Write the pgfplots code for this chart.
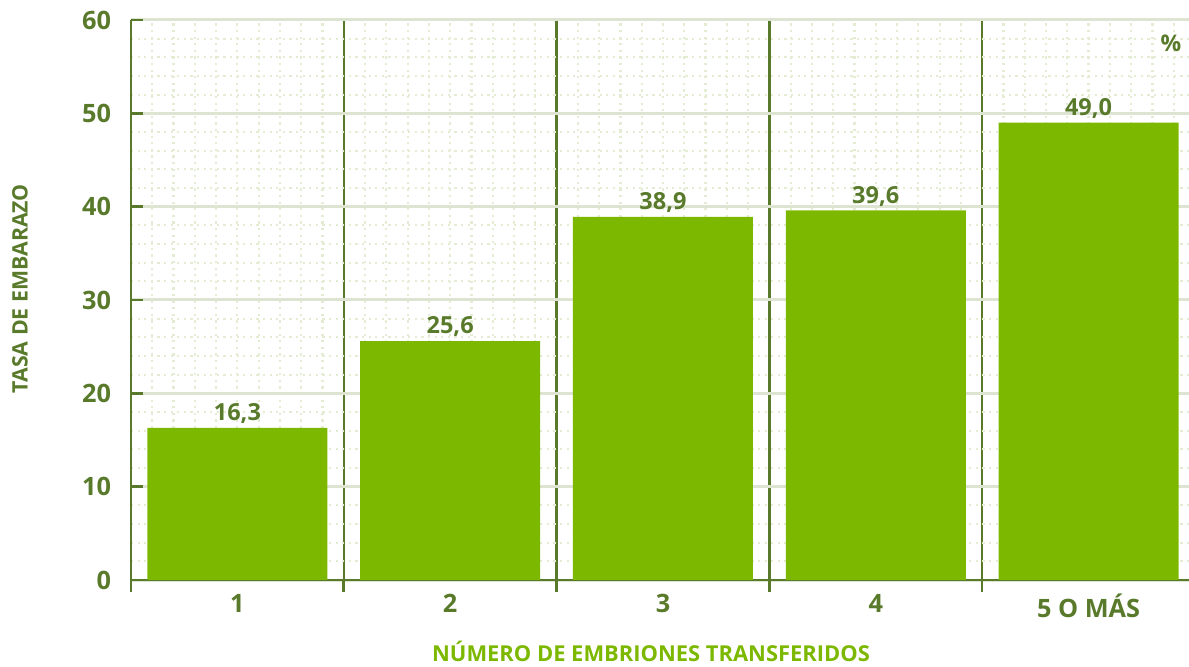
\documentclass[border=0pt]{standalone}
\usepackage{fontspec}
\setmainfont{Open Sans}
\usepackage{pgfplots}
\pgfplotsset{compat=1.18}
\definecolor{barg}{HTML}{7CB800}
\definecolor{dkg}{HTML}{587A2A}
\definecolor{lgrid}{HTML}{DDE4D2}
\definecolor{dotc}{HTML}{E4EDD3}
\begin{document}
\begin{tikzpicture}
\begin{axis}[
  at={(0,0)}, anchor=south west,
  scale only axis, width=529bp, height=280bp,
  xmin=0.5, xmax=5.472, ymin=0, ymax=60,
  axis x line*=bottom, axis y line*=left,
  axis line style={-, draw=dkg, line width=1.3bp},
  tick align=outside,
  major tick length=6bp, minor tick length=0pt,
  xtick={0.5,1.5,2.5,3.5,4.5}, xticklabels={},
  extra x ticks={1,2,3,4,5},
  extra x tick labels={1,2,3,4,5 O MÁS},
  extra x tick style={major tick length=0pt, grid=none},
  ytick={0,10,...,60},
  ytick style={xshift=6bp},
  tick style={draw=dkg, line width=1.3bp},
  minor xtick={0.6,0.7,...,5.45},
  minor ytick={2,4,...,58},
  grid=both,
  major x grid style={draw=dkg, line width=1.2bp},
  major y grid style={draw=lgrid, line width=1.5bp},
  minor grid style={draw=dotc, line width=1.1bp, dash pattern=on 1.1bp off 2.2bp},
  /pgf/number format/assume math mode=true,
  ticklabel style={font=\fontsize{12.7}{14}\selectfont\bfseries, text=dkg},
  yticklabel style={xshift=-0.5bp},
  xticklabel style={yshift=-3.5bp},
  xlabel={NÚMERO DE EMBRIONES TRANSFERIDOS},
  xlabel style={at={(axis description cs:0.4915,-0.128)}, anchor=center,
    font=\fontsize{11}{13}\selectfont\bfseries, text=barg},
  ylabel={TASA DE EMBARAZO},
  ylabel style={at={(axis description cs:-0.105,0.52)}, anchor=center, rotate=0,
    font=\fontsize{10.7}{12}\selectfont\bfseries, text=dkg},
  ybar, bar width=0.846,
  nodes near coords,
  every node near coord/.append style={font=\fontsize{11.8}{13}\selectfont\bfseries, text=dkg, anchor=south, yshift=-1.5bp,
    /pgf/number format/.cd, fixed, fixed zerofill, precision=1, use comma},
]
\addplot[fill=barg, draw=none] coordinates {(1,16.3) (2,25.6) (3,38.9) (4,39.6) (5,49.0)};
\node[font=\fontsize{11.5}{13}\selectfont\bfseries, text=dkg] at (rel axis cs:0.983,0.959) {\%};
\end{axis}
\pgfresetboundingbox
\path (-65.5bp,-43.5bp) rectangle (529bp,290bp);
\end{tikzpicture}
\end{document}
